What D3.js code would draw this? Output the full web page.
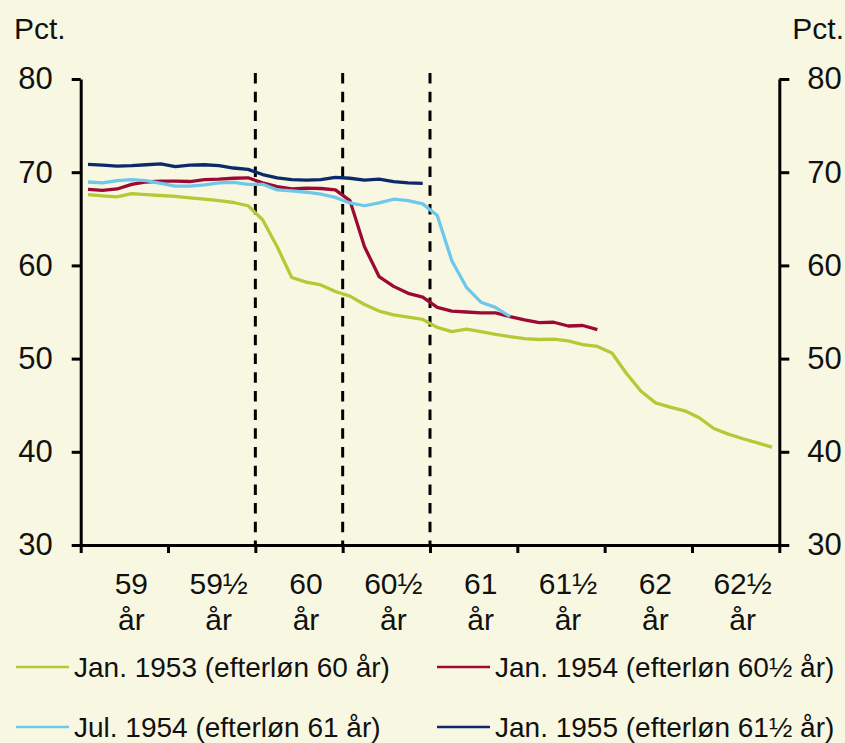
<!DOCTYPE html>
<html lang="da">
<head>
<meta charset="utf-8">
<title>Efterløn</title>
<script src="https://cdn.jsdelivr.net/npm/d3@7/dist/d3.min.js"></script>
<style>
body { margin: 0; background: #f8f8e2; }
svg text { font-family: "Liberation Sans", Arial, sans-serif; fill: #111; }
.axis path, .axis line { stroke: #000; stroke-width: 3; fill: none; }
</style>
</head>
<body>
<div id="chart"></div>
<script>
// monthly shares (pct.), month index 0 = first month after 58½ år
var jan1953 = [67.6, 67.45, 67.35, 67.7, 67.6, 67.5, 67.4, 67.25, 67.1, 66.95, 66.75, 66.4,
  64.9, 62.0, 58.7, 58.2, 57.9, 57.2, 56.7, 55.8, 55.1, 54.7, 54.45, 54.2,
  53.35, 52.9, 53.15, 52.9, 52.6, 52.35, 52.15, 52.05, 52.1, 51.9, 51.5, 51.3,
  50.6, 48.4, 46.5, 45.25, 44.8, 44.4, 43.65, 42.5, 41.9, 41.4, 40.95, 40.5];
var jan1954 = [68.15, 68.05, 68.2, 68.7, 68.95, 69.05, 69.05, 69.0, 69.2, 69.25, 69.35, 69.4,
  68.85, 68.45, 68.2, 68.3, 68.25, 68.1, 66.95, 62.0, 58.8, 57.75, 57.0, 56.6,
  55.5, 55.1, 55.0, 54.9, 54.9, 54.5, 54.15, 53.85, 53.9, 53.5, 53.55, 53.1];
var jul1954 = [68.95, 68.85, 69.1, 69.2, 69.1, 68.8, 68.5, 68.5, 68.65, 68.85, 68.9, 68.7,
  68.7, 68.1, 68.0, 67.85, 67.65, 67.3, 66.7, 66.4, 66.7, 67.1, 66.95, 66.6,
  65.35, 60.5, 57.65, 56.05, 55.5, 54.5];
var jan1955 = [70.85, 70.75, 70.65, 70.7, 70.8, 70.9, 70.6, 70.75, 70.8, 70.7, 70.45, 70.3,
  69.75, 69.4, 69.2, 69.15, 69.2, 69.45, 69.35, 69.15, 69.25, 69.0, 68.85, 68.8];

var ageLabels = ["59", "59½", "60", "60½", "61", "61½", "62", "62½"];
var yTicks = [30, 40, 50, 60, 70, 80];
var dashedAt = [12, 18, 24];   // month index of efterløn age 60, 60½, 61

var seriesNames = ["Jan. 1953 (efterløn 60 år)", "Jan. 1954 (efterløn 60½ år)",
                   "Jul. 1954 (efterløn 61 år)", "Jan. 1955 (efterløn 61½ år)"];
var seriesData = [jan1953, jan1954, jul1954, jan1955];
var seriesColors = ["#b4c935", "#9c0a33", "#6fc7ea", "#0c2a6b"];

var width = 845, height = 743;
var plotLeft = 80.7, plotRight = 779.3, plotTop = 79, plotBottom = 545;

var svg = d3.select('#chart').append('svg')
  .attr('width', width)
  .attr('height', height)
  .style('background', '#f8f8e2');

var x = d3.scaleLinear().domain([0, 48]).range([plotLeft, plotRight]);
var y = d3.scaleLinear().domain([30, 80]).range([plotBottom, plotTop]);

// dashed reference lines
svg.selectAll('.ref')
  .data(dashedAt)
  .enter().append('line')
  .attr('x1', function(d) { return x(d); })
  .attr('x2', function(d) { return x(d); })
  .attr('y1', y(80) - 6)
  .attr('y2', y(30))
  .style('stroke', '#000')
  .style('stroke-width', 3)
  .style('stroke-dasharray', '10.5,8.2');

// y axes
svg.append('g')
  .attr('class', 'axis')
  .attr('transform', 'translate(' + plotLeft + ',0)')
  .call(d3.axisLeft(y).tickValues(yTicks).tickSize(9).tickSizeOuter(0).tickPadding(19));

svg.append('g')
  .attr('class', 'axis')
  .attr('transform', 'translate(' + plotRight + ',0)')
  .call(d3.axisRight(y).tickValues(yTicks).tickSize(10).tickSizeOuter(0).tickPadding(18));

// x axis
svg.append('g')
  .attr('class', 'axis')
  .attr('transform', 'translate(0,' + plotBottom + ')')
  .call(d3.axisBottom(x).tickValues(d3.range(0, 49, 6)).tickSize(8).tickSizeOuter(0).tickFormat(''));

svg.selectAll('.axis text')
  .style('font-size', '31px')
  .style('font-family', '"Liberation Sans", Arial, sans-serif')
  .attr('fill', '#111');

var xl = svg.selectAll('.agelabel')
  .data(ageLabels)
  .enter().append('text')
  .attr('class', 'agelabel')
  .attr('text-anchor', 'middle')
  .style('font-size', '30px');
xl.append('tspan')
  .attr('x', function(d, i) { return x(i * 6 + 3) + 7; })
  .attr('y', 594)
  .text(function(d) { return d; });
xl.append('tspan')
  .attr('x', function(d, i) { return x(i * 6 + 3) + 7; })
  .attr('y', 630)
  .text('år');

// Pct. labels
svg.append('text').attr('x', 14).attr('y', 39).style('font-size', '30px').text('Pct.');
svg.append('text').attr('x', 844).attr('y', 39).attr('text-anchor', 'end').style('font-size', '30px').text('Pct.');

// series
var line = d3.line()
  .x(function(d, i) { return x(i + 0.5); })
  .y(function(d) { return y(d); });

svg.selectAll('.series')
  .data(seriesData)
  .enter().append('path')
  .attr('d', line)
  .style('fill', 'none')
  .style('stroke', function(d, i) { return seriesColors[i]; })
  .style('stroke-width', 3.3)
  .style('stroke-linejoin', 'round');

// legend
var legendX = [16, 437], legendY = [667, 727];
var lg = svg.selectAll('.legend')
  .data(seriesNames)
  .enter().append('g')
  .attr('transform', function(d, i) {
    return 'translate(' + legendX[i % 2] + ',' + legendY[Math.floor(i / 2)] + ')';
  });
lg.append('line')
  .attr('x1', 0).attr('x2', 53)
  .style('stroke', function(d, i) { return seriesColors[i]; })
  .style('stroke-width', 2.5);
lg.append('text')
  .attr('x', 58)
  .attr('y', 10)
  .style('font-size', '28px')
  .text(function(d) { return d; });
</script>
</body>
</html>
